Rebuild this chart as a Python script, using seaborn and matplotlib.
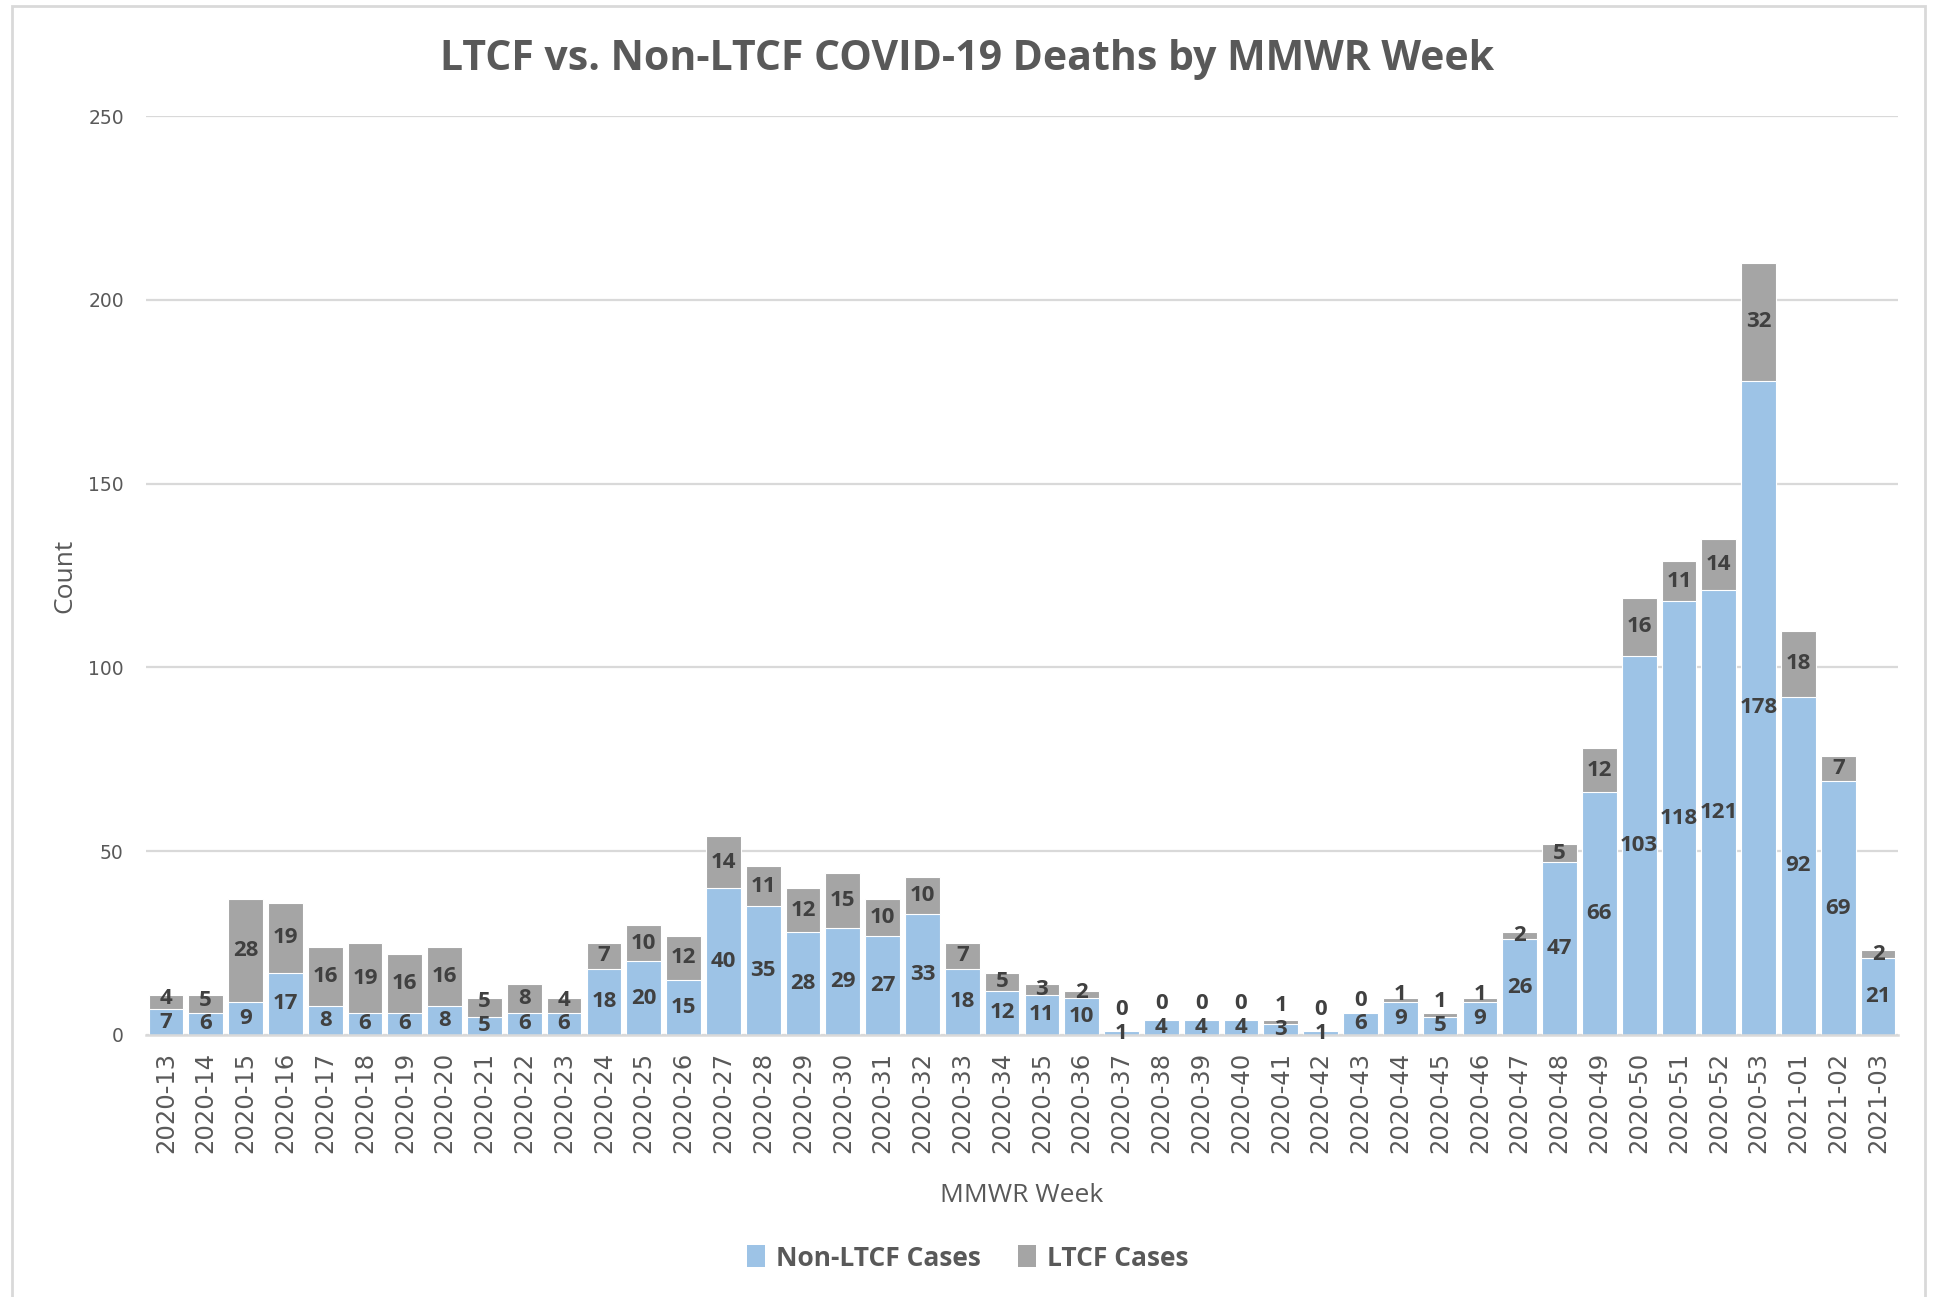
import matplotlib
matplotlib.use("Agg")
import matplotlib.pyplot as plt
from matplotlib.patches import Patch, Rectangle
import seaborn as sns
import pandas as pd

weeks = ["2020-13", "2020-14", "2020-15", "2020-16", "2020-17", "2020-18", "2020-19", "2020-20",
         "2020-21", "2020-22", "2020-23", "2020-24", "2020-25", "2020-26", "2020-27", "2020-28",
         "2020-29", "2020-30", "2020-31", "2020-32", "2020-33", "2020-34", "2020-35", "2020-36",
         "2020-37", "2020-38", "2020-39", "2020-40", "2020-41", "2020-42", "2020-43", "2020-44",
         "2020-45", "2020-46", "2020-47", "2020-48", "2020-49", "2020-50", "2020-51", "2020-52",
         "2020-53", "2021-01", "2021-02", "2021-03"]
non_ltcf = [7, 6, 9, 17, 8, 6, 6, 8, 5, 6, 6, 18, 20, 15, 40, 35, 28, 29, 27, 33,
            18, 12, 11, 10, 1, 4, 4, 4, 3, 1, 6, 9, 5, 9, 26, 47, 66, 103, 118, 121,
            178, 92, 69, 21]
ltcf = [4, 5, 28, 19, 16, 19, 16, 16, 5, 8, 4, 7, 10, 12, 14, 11, 12, 15, 10, 10,
        7, 5, 3, 2, 0, 0, 0, 0, 1, 0, 0, 1, 1, 1, 2, 5, 12, 16, 11, 14,
        32, 18, 7, 2]
series_names = ["Non-LTCF Cases", "LTCF Cases"]
y_ticks = [0, 50, 100, 150, 200, 250]

BLUE = "#9DC3E6"
GRAY = "#A5A5A5"
TXT = "#595959"
LBL = "#404040"
GRID = "#D9D9D9"

sns.set_theme(style="white")
NARROW = ["Liberation Sans Narrow", "Open Sans", "DejaVu Sans"]
plt.rcParams["font.family"] = NARROW

df = pd.DataFrame({"week": weeks, "non": non_ltcf, "ltcf": ltcf})
df["total"] = df["non"] + df["ltcf"]

fig = plt.figure(figsize=(19.35, 12.97), dpi=100)
ax = fig.add_axes([146 / 1935, 1 - 1035 / 1297, (1898 - 146) / 1935, (1035 - 116) / 1297])

sns.barplot(data=df, x="week", y="total", color=GRAY, saturation=1, width=0.87,
            ax=ax, edgecolor="white", linewidth=0.8, zorder=3, errorbar=None)
sns.barplot(data=df, x="week", y="non", color=BLUE, saturation=1, width=0.87,
            ax=ax, edgecolor="white", linewidth=0.8, zorder=4, errorbar=None)

ax.set_ylim(0, 250)
ax.set_xlim(-0.5, len(weeks) - 0.5)
ax.set_yticks(y_ticks)
ax.yaxis.grid(True, color=GRID, linewidth=1.6, zorder=0)
ax.xaxis.grid(False)
for s in ["top", "right", "left"]:
    ax.spines[s].set_visible(False)
ax.spines["bottom"].set_color(GRID)
ax.spines["bottom"].set_linewidth(1.8)
ax.spines["bottom"].set_zorder(5)

ax.tick_params(axis="y", length=0, pad=16, labelsize=13.5, labelcolor=TXT)
ax.tick_params(axis="x", length=0, pad=12, labelsize=17.5, labelcolor=TXT, rotation=90)
for t in ax.get_yticklabels():
    t.set_family("DejaVu Sans")
for t in ax.get_xticklabels():
    t.set_family("DejaVu Sans")

ax.set_xlabel("MMWR Week", fontsize=19, color=TXT)
ax.set_ylabel("Count", fontsize=19, color=TXT)
ax.xaxis.set_label_coords(0.5, -(1183 - 1035) / (1035 - 116))
ax.yaxis.set_label_coords(-(146 - 77) / (1898 - 146), 0.5)

# data labels
for i, (n, l) in enumerate(zip(non_ltcf, ltcf)):
    y_n = n / 2
    y_l = n + l / 2
    if y_l - y_n < 6.5:
        y_l = y_n + 6.5
    ax.text(i, y_n, str(n), ha="center", va="center", fontsize=16,
            fontweight="bold", color=LBL, zorder=6)
    ax.text(i, y_l, str(l), ha="center", va="center", fontsize=16,
            fontweight="bold", color=LBL, zorder=6)

fig.text(0.5, 1 - 60 / 1297, "LTCF vs. Non-LTCF COVID-19 Deaths by MMWR Week",
         ha="center", va="center", fontsize=29.5, fontweight="bold", color=TXT)

handles = [Patch(facecolor=BLUE, edgecolor="none"), Patch(facecolor=GRAY, edgecolor="none")]
leg = fig.legend(handles, series_names, loc="center", bbox_to_anchor=(0.5, 1 - 1258 / 1297),
                 ncol=2, frameon=False, handlelength=0.7, handleheight=0.9,
                 handletextpad=0.4, columnspacing=1.4, prop={"size": 19, "weight": "bold"})
for t in leg.get_texts():
    t.set_color(TXT)

fig.patches.append(Rectangle((12 / 1935, -0.02), (1925 - 12) / 1935, 1.02 - 6 / 1297,
                             transform=fig.transFigure, fill=False, edgecolor=GRID,
                             linewidth=2))

fig.savefig("out.png", dpi=100, facecolor="white")
